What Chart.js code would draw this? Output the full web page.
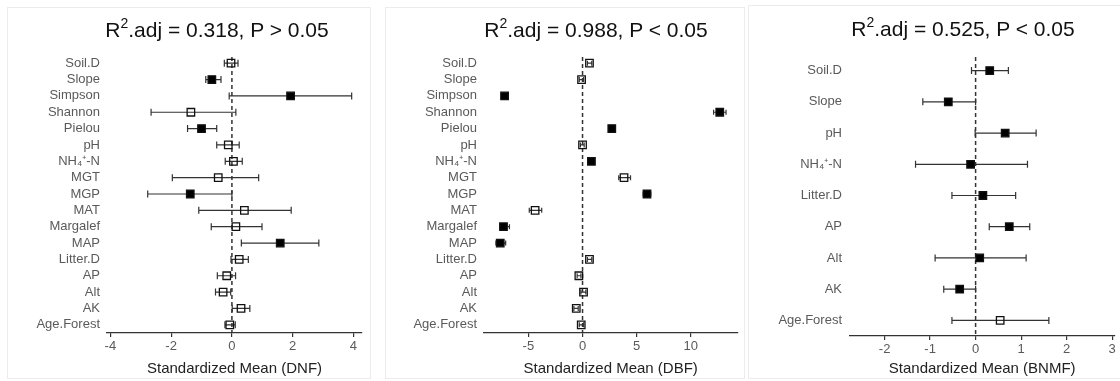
<!DOCTYPE html>
<html><head><meta charset="utf-8">
<script src="https://cdn.jsdelivr.net/npm/chart.js@4"></script>
<style>
html,body{margin:0;padding:0;background:#fff;width:1120px;height:381px;overflow:hidden;font-family:"Liberation Sans",Arial,sans-serif;}
.frame{position:absolute;box-sizing:border-box;border:1px solid #ececec;background:#fff;}
.frame canvas{position:absolute;left:0;top:0;}
.title{position:absolute;transform:translate(-50%,-50%);font-size:21px;color:#111;white-space:nowrap;line-height:1;}
.title sup{font-size:14px;vertical-align:0;position:relative;top:-9px;}
</style></head>
<body>
<div class="frame" style="left:7px;top:7px;width:364px;height:372px;"><canvas id="c1" width="362" height="370"></canvas></div>
<div class="frame" style="left:385px;top:7px;width:360px;height:372px;"><canvas id="c2" width="358" height="370"></canvas></div>
<div class="frame" style="left:748px;top:5px;width:380px;height:374px;"><canvas id="c3" width="372" height="372"></canvas></div>
<div class="title" style="left:217px;top:29px;">R<sup>2</sup>.adj = 0.318, P &gt; 0.05</div>
<div class="title" style="left:596px;top:29px;">R<sup>2</sup>.adj = 0.988, P &lt; 0.05</div>
<div class="title" style="left:963px;top:28px;">R<sup>2</sup>.adj = 0.525, P &lt; 0.05</div>
<script>
// ---- Data ----
const labelsA = ["Soil.D","Slope","Simpson","Shannon","Pielou","pH","NH\u2084\u207A-N","MGT","MGP","MAT","Margalef","MAP","Litter.D","AP","Alt","AK","Age.Forest"];
const dnfMean = [-0.03,-0.66,1.93,-1.35,-1.0,-0.12,0.05,-0.45,-1.37,0.41,0.13,1.59,0.24,-0.17,-0.29,0.30,-0.07];
const dnfLow  = [-0.25,-0.86,-0.09,-2.66,-1.46,-0.50,-0.22,-1.96,-2.77,-1.09,-0.68,0.31,-0.03,-0.48,-0.54,0.01,-0.23];
const dnfHigh = [0.20,-0.36,3.94,0.13,-0.50,0.24,0.34,0.88,0.00,1.95,0.99,2.86,0.54,0.12,-0.04,0.59,0.11];
const dnfSig  = [0,1,1,0,1,0,0,0,1,0,0,1,0,0,0,0,0];

const dbfMean = [0.64,-0.09,-7.2,12.67,2.7,0.0,0.82,3.83,5.95,-4.38,-7.3,-7.6,0.64,-0.34,0.09,-0.58,-0.12];
const dbfLow  = [0.45,-0.30,-7.5,12.10,2.55,-0.20,0.65,3.34,5.60,-4.92,-7.6,-8.0,0.45,-0.50,-0.15,-0.80,-0.30];
const dbfHigh = [0.85,0.10,-6.9,13.25,2.85,0.15,0.95,4.43,6.30,-3.77,-6.75,-7.1,0.85,-0.15,0.30,-0.40,0.10];
const dbfSig  = [0,0,1,1,1,0,1,0,1,0,1,1,0,0,0,0,0];

const labelsB = ["Soil.D","Slope","pH","NH\u2084\u207A-N","Litter.D","AP","Alt","AK","Age.Forest"];
const bnmfMean = [0.31,-0.60,0.65,-0.11,0.16,0.74,0.09,-0.35,0.54];
const bnmfLow  = [-0.09,-1.16,-0.01,-1.32,-0.52,0.30,-0.89,-0.70,-0.52];
const bnmfHigh = [0.72,0.00,1.33,1.14,0.88,1.19,1.11,0.00,1.61];
const bnmfSig  = [1,1,1,1,1,1,1,1,0];

const xTicksDNF = {min:-4.11, max:4.28, step:2};
const xTicksDBF = {min:-9.1, max:14.3, step:5};
const xTicksBNMF = {min:-2.76, max:3.05, step:1};

// ---- Error bar + zero line plugin ----
const errPlugin = {
  id:'errbars',
  beforeDatasetsDraw(chart, args, opts){
    const {ctx, chartArea, scales:{x,y}} = chart;
    ctx.save();
    const x0 = x.getPixelForValue(0);
    ctx.strokeStyle = '#333'; ctx.lineWidth = 1.5;
    ctx.setLineDash([4,3]);
    ctx.beginPath(); ctx.moveTo(x0, chartArea.top+2); ctx.lineTo(x0, chartArea.bottom); ctx.stroke();
    ctx.setLineDash([]);
    ctx.lineWidth = 1.2; ctx.strokeStyle = '#333';
    opts.lo.forEach((lo,i)=>{
      const yy = y.getPixelForValue(i);
      const a = x.getPixelForValue(lo), b = x.getPixelForValue(opts.hi[i]);
      const c = opts.cap;
      ctx.beginPath();
      ctx.moveTo(a,yy); ctx.lineTo(b,yy);
      ctx.moveTo(a,yy-c); ctx.lineTo(a,yy+c);
      ctx.moveTo(b,yy-c); ctx.lineTo(b,yy+c);
      ctx.stroke();
    });
    ctx.restore();
  }
};

function makeChart(id, labels, mean, lo, hi, sig, xr, xtitle, lay){
  new Chart(document.getElementById(id), {
    type:'scatter',
    data:{datasets:[{
      data: mean.map((v,i)=>({x:v, y:labels[i]})),
      pointStyle:'rect',
      pointRadius: lay.r,
      pointBorderWidth: 1.3,
      pointBorderColor:'#111',
      pointBackgroundColor: sig.map(s=> s ? '#000' : 'rgba(0,0,0,0)')
    }]},
    options:{
      responsive:false, animation:false,
      layout:{padding:{left:0,right:lay.pr,top:lay.pt,bottom:0}},
      plugins:{legend:{display:false}, tooltip:{enabled:false}, title:{display:false},
        errbars:{lo:lo, hi:hi, cap:lay.cap}},
      scales:{
        x:{type:'linear', min:xr.min, max:xr.max,
          ticks:{stepSize:xr.step, includeBounds:false, color:'#5a5a5a', font:{family:'"Liberation Sans", Arial, sans-serif', size:13}, padding:2},
          grid:{drawOnChartArea:false, drawTicks:true, tickLength:4, color:'#333', lineWidth:1.2},
          border:{display:true, color:'#333', width:1.2},
          title:{display:true, text:xtitle, color:'#222', font:{family:'"Liberation Sans", Arial, sans-serif', size:15}, padding:{top:1,bottom:0}},
          afterFit(s){ s.height = lay.xh; }
        },
        y:{type:'category', labels:labels, offset:true,
          grid:{display:false, drawTicks:false}, border:{display:false},
          ticks:{color:'#5a5a5a', font:{family:'"Liberation Sans", Arial, sans-serif', size:lay.fs}, padding:lay.lp, autoSkip:false},
          afterFit(s){ s.width = lay.yw; }
        }
      }
    },
    plugins:[errPlugin]
  });
}

makeChart('c1', labelsA, dnfMean, dnfLow, dnfHigh, dnfSig, xTicksDNF, 'Standardized Mean (DNF)',
  {r:5.3, cap:3.5, pr:8, pt:47, xh:45, yw:99, fs:13, lp:7});
makeChart('c2', labelsA, dbfMean, dbfLow, dbfHigh, dbfSig, xTicksDBF, 'Standardized Mean (DBF)',
  {r:5.3, cap:2.5, pr:3, pt:47, xh:45, yw:98, fs:13, lp:7});
makeChart('c3', labelsB, bnmfMean, bnmfLow, bnmfHigh, bnmfSig, xTicksBNMF, 'Standardized Mean (BNMF)',
  {r:5.3, cap:3.5, pr:6, pt:49, xh:42, yw:101, fs:13, lp:8});
</script>
</body></html>
